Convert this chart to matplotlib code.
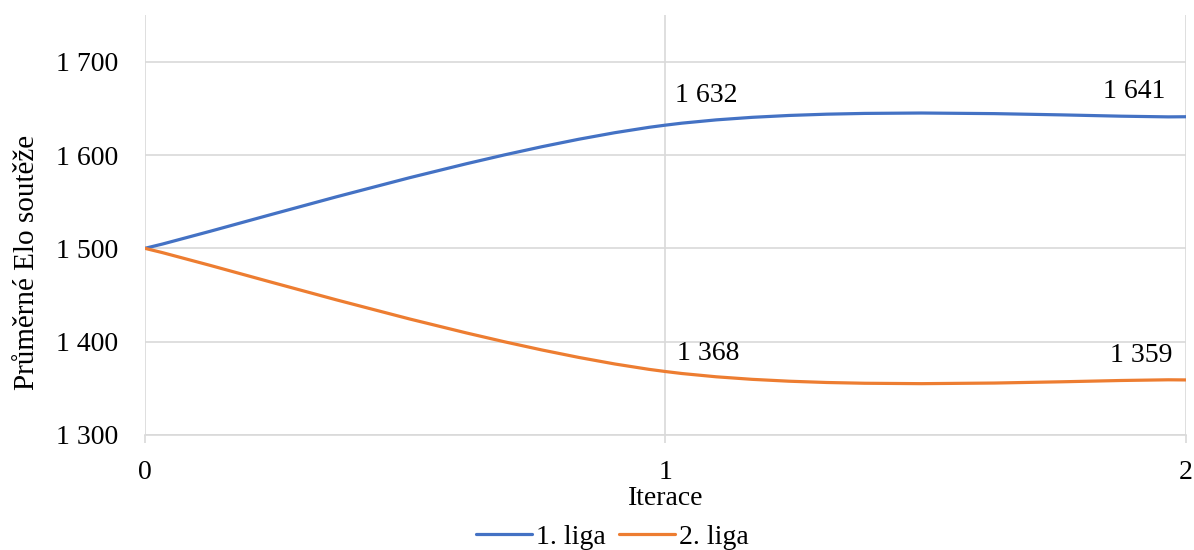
import numpy as np
import matplotlib.pyplot as plt
from matplotlib.path import Path
from matplotlib.patches import PathPatch
from matplotlib.lines import Line2D

plt.rcParams['font.family'] = ['Liberation Serif', 'DejaVu Serif']

# Data
iterace = [0, 1, 2]
liga1 = [1500, 1632, 1641]
liga2 = [1500, 1368, 1359]
series_names = ['1. liga', '2. liga']
colors = ['#4472C4', '#ED7D31']


def smooth_path(xs, ys):
    # Excel-like smoothed line: cubic Bezier segments with Catmull-Rom tangents
    pts = np.column_stack([xs, ys]).astype(float)
    n = len(pts)
    verts = [pts[0]]
    codes = [Path.MOVETO]
    for i in range(n - 1):
        p0 = pts[i - 1] if i > 0 else pts[i]
        p1 = pts[i]
        p2 = pts[i + 1]
        p3 = pts[i + 2] if i + 2 < n else pts[i + 1]
        c1 = p1 + (p2 - p0) / 6.0
        c2 = p2 - (p3 - p1) / 6.0
        verts += [c1, c2, p2]
        codes += [Path.CURVE4] * 3
    return Path(verts, codes)


def fmt(v):
    return f"{v:,.0f}".replace(',', ' ')


fig = plt.figure(figsize=(11.94, 5.5), dpi=100)
ax = fig.add_axes([0.1214, 0.2091, 0.8719, 0.7636])

for ys, col in zip([liga1, liga2], colors):
    patch = PathPatch(smooth_path(iterace, ys), facecolor='none', edgecolor=col,
                      lw=2.3, capstyle='round', zorder=3)
    ax.add_patch(patch)

ax.set_xlim(0, 2)
ax.set_ylim(1300, 1750)
ax.set_yticks([1300, 1400, 1500, 1600, 1700])
ax.set_yticklabels([fmt(v) for v in [1300, 1400, 1500, 1600, 1700]])
ax.set_xticks(iterace)

ax.grid(True, color='#D9D9D9', lw=1.2)
ax.set_axisbelow(True)
for s in ['top', 'right', 'left']:
    ax.spines[s].set_visible(False)
ax.spines['bottom'].set_color('#D9D9D9')
ax.spines['bottom'].set_linewidth(1.2)
ax.tick_params(axis='y', length=0, labelsize=20, pad=19)
ax.tick_params(axis='x', length=6, color='#D9D9D9', width=1.2, labelsize=20, pad=12)

ax.set_xlabel('Iterace', fontsize=20, labelpad=1)
ax.set_ylabel('Průměrné Elo soutěže', fontsize=21)
ax.yaxis.set_label_coords(-0.101, 0.41)

# Data labels
ax.annotate(fmt(liga1[1]), (1, liga1[1]), xytext=(10, 30), textcoords='offset pixels',
            ha='left', va='center', fontsize=20)
ax.annotate(fmt(liga1[2]), (2, liga1[2]), xytext=(-21, 25), textcoords='offset pixels',
            ha='right', va='center', fontsize=20)
ax.annotate(fmt(liga2[1]), (1, liga2[1]), xytext=(12, 18), textcoords='offset pixels',
            ha='left', va='center', fontsize=20)
ax.annotate(fmt(liga2[2]), (2, liga2[2]), xytext=(-14, 24), textcoords='offset pixels',
            ha='right', va='center', fontsize=20)

handles = [Line2D([0], [0], color=c, lw=2.3, solid_capstyle='round') for c in colors]
fig.legend(handles, series_names, loc='lower center', bbox_to_anchor=(0.513, -0.045),
           ncol=2, frameon=False, fontsize=20, handlelength=2.0, handletextpad=0.15,
           columnspacing=0.5)

fig.savefig('out.png', dpi=100)
